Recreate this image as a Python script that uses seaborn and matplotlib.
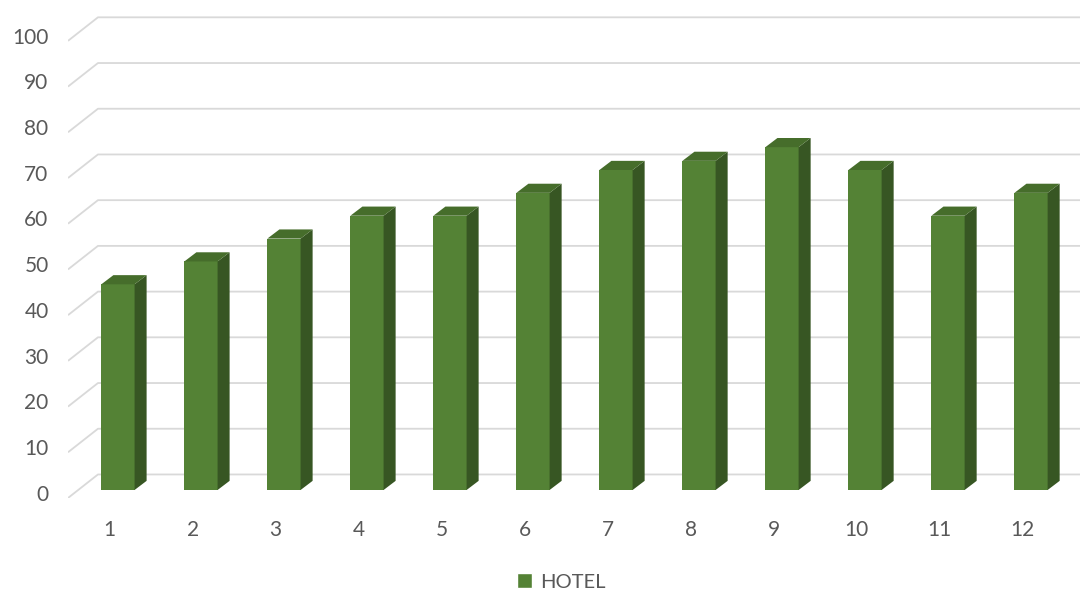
import numpy as np
import pandas as pd
import seaborn as sns
import matplotlib
matplotlib.use("Agg")
import matplotlib.pyplot as plt
from matplotlib.patches import Polygon, Patch

# data
months = ["1", "2", "3", "4", "5", "6", "7", "8", "9", "10", "11", "12"]
hotel = [45, 50, 55, 60, 60, 65, 70, 72, 75, 70, 60, 65]
yticks = [0, 10, 20, 30, 40, 50, 60, 70, 80, 90, 100]

front = "#548235"
side = "#375623"
top = "#466d2b"
grid = "#d9d9d9"
txt = "#595959"

sns.set_theme(style="white")
plt.rcParams["font.family"] = ["Lato", "DejaVu Sans"]

df = pd.DataFrame({"month": months, "HOTEL": hotel})

fig = plt.figure(figsize=(10.83, 5.97), dpi=100)
W, H = 1083, 597
ax = fig.add_axes([68 / W, (H - 498) / H, (1080 - 68) / W, (498 - 10) / H])

sns.barplot(data=df, x="month", y="HOTEL", order=months, color=front,
            saturation=1, width=0.4, ax=ax, zorder=3, linewidth=0,
            edgecolor="none")

ax.set_xlim(-0.602, 11.59)
ax.set_ylim(-1.75, 105.0)

# 3d look: side and top faces
ddx, ddy = 0.145, 2.0
for p in list(ax.patches):
    x0 = p.get_x()
    x1 = x0 + p.get_width()
    h = p.get_height()
    ax.add_patch(Polygon([(x1, 0), (x1 + ddx, ddy), (x1 + ddx, h + ddy), (x1, h)],
                         closed=True, facecolor=side, edgecolor="none", zorder=3))
    ax.add_patch(Polygon([(x0, h), (x0 + ddx, h + ddy), (x1 + ddx, h + ddy), (x1, h)],
                         closed=True, facecolor=top, edgecolor="none", zorder=3))

# back wall gridlines with slanted side wall part
back = 3.4
xl, xb, xr = -0.602, -0.241, 11.59
for v in yticks:
    ax.plot([xl, xb, xr], [v - 1.75, v + back, v + back], color=grid,
            lw=1.3, zorder=1, solid_capstyle="butt")

ax.set_yticks(np.array(yticks) - 0.6)
ax.set_yticklabels([str(v) for v in yticks], fontsize=15, color=txt)
ax.set_xticks(np.arange(len(months)) - 0.1)
ax.set_xticklabels(months, fontsize=15, color=txt)
ax.tick_params(axis="y", length=0, pad=14)
ax.tick_params(axis="x", length=0, pad=16)
ax.set_xlabel("")
ax.set_ylabel("")
for s in ax.spines.values():
    s.set_visible(False)
ax.set_facecolor("none")

fig.legend(handles=[Patch(facecolor=front, label="HOTEL")], loc="center",
           bbox_to_anchor=(0.518, 0.025), frameon=False, fontsize=14.5,
           handlelength=0.75, handleheight=0.75, handletextpad=0.4,
           labelcolor=txt)

fig.savefig("out.png", dpi=100)
